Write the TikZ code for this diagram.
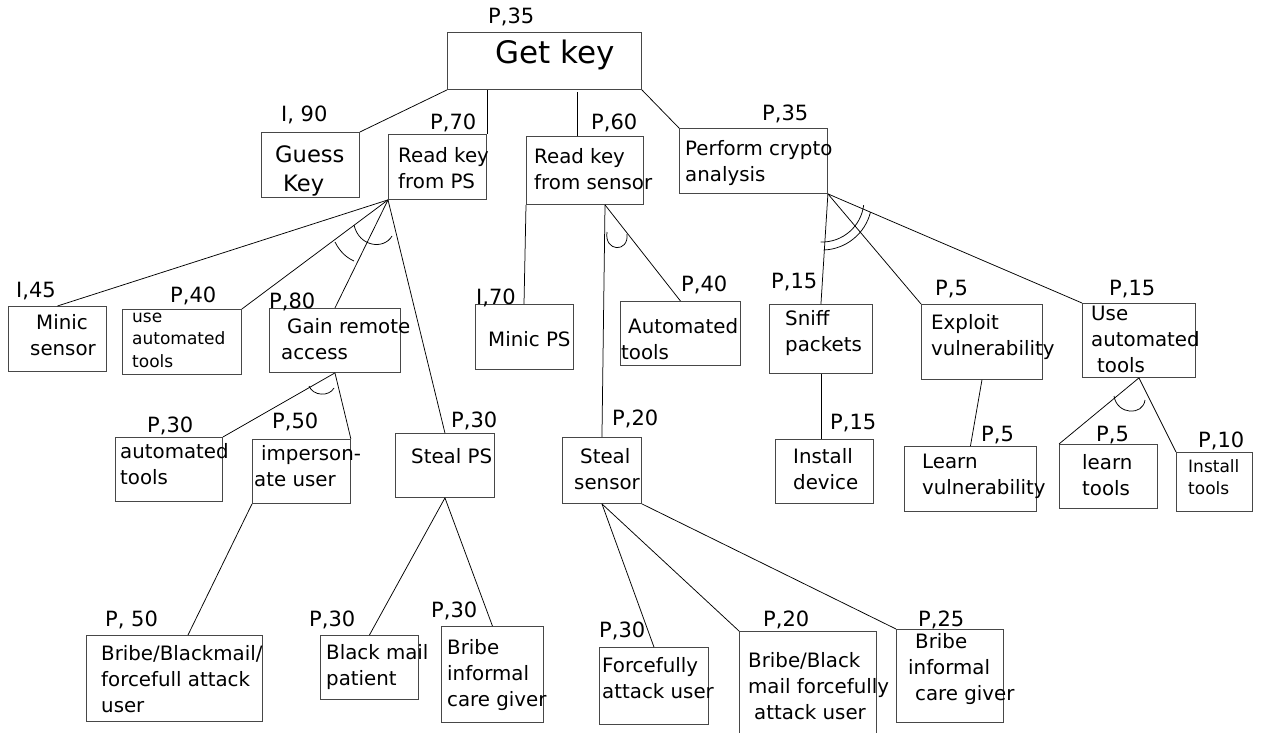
\documentclass[tikz,border=0pt]{standalone}
\usepackage{fontspec}
\setmainfont{DejaVu Sans}
\usetikzlibrary{calc}
\newcommand\rows[1]{\begin{tabular}[t]{@{}l@{}}#1\end{tabular}}
\tikzset{
  box/.style={draw=black!72, line width=0.9pt, inner sep=0pt, anchor=north west},
  lbl/.style={anchor=base west, inner sep=0pt, font=\fontsize{21}{25}\selectfont},
  txt/.style={anchor=base west, inner sep=0pt, font=\fontsize{19.8}{26.3}\selectfont},
  txtsm/.style={anchor=base west, inner sep=0pt, font=\fontsize{17}{22.7}\selectfont},
  txtbig/.style={anchor=base west, inner sep=0pt, font=\fontsize{31}{36}\selectfont},
  link/.style={draw=black, line width=0.75pt},
  andarc/.style={draw=black, line width=0.75pt}
}
\begin{document}
\begin{tikzpicture}[x=1pt,y=-1pt]
\fill[white] (0,0) rectangle (1263,733);
\useasboundingbox (0,0) rectangle (1263,733);

% ---- boxes ----
\node[box, minimum width=194pt, minimum height=57pt] (root) at (447,32) {};
\node[box, minimum width=98pt, minimum height=65pt] (guess) at (261,132) {};
\node[box, minimum width=98pt, minimum height=65pt] (ps) at (388,134) {};
\node[box, minimum width=117pt, minimum height=68pt] (sensor) at (526,136) {};
\node[box, minimum width=148pt, minimum height=65pt] (crypto) at (679,128) {};

\node[box, minimum width=98pt, minimum height=65pt] (minics) at (8,306) {};
\node[box, minimum width=119pt, minimum height=65pt] (useauto) at (122,309) {};
\node[box, minimum width=131pt, minimum height=64pt] (gain) at (269,308) {};
\node[box, minimum width=107pt, minimum height=64pt] (autotools) at (115,437) {};
\node[box, minimum width=98pt, minimum height=64pt] (imperson) at (252,439) {};
\node[box, minimum width=99pt, minimum height=64pt] (stealps) at (395,433) {};
\node[box, minimum width=176pt, minimum height=86pt] (bribeA) at (86,635) {};
\node[box, minimum width=98pt, minimum height=64pt] (blackmail) at (320,635) {};
\node[box, minimum width=102pt, minimum height=96pt] (careA) at (441,626) {};

\node[box, minimum width=98pt, minimum height=65pt] (minicps) at (475,304) {};
\node[box, minimum width=120pt, minimum height=64pt] (autosens) at (620,301) {};
\node[box, minimum width=79pt, minimum height=66pt] (stealsens) at (562,437) {};
\node[box, minimum width=109pt, minimum height=77pt] (forcef) at (599,647) {};
\node[box, minimum width=137pt, minimum height=120pt] (bribeB) at (739,631) {};
\node[box, minimum width=107pt, minimum height=93pt] (careB) at (896,629) {};

\node[box, minimum width=103pt, minimum height=69pt] (sniff) at (769,304) {};
\node[box, minimum width=121pt, minimum height=75pt] (exploit) at (921,304) {};
\node[box, minimum width=113pt, minimum height=74pt] (useautoB) at (1082,303) {};
\node[box, minimum width=98pt, minimum height=64pt] (install) at (775,439) {};
\node[box, minimum width=132pt, minimum height=65pt] (learnvul) at (904,446) {};
\node[box, minimum width=98pt, minimum height=64pt] (learntools) at (1059,444) {};
\node[box, minimum width=76pt, minimum height=59pt] (installtools) at (1176,452) {};

% ---- box texts ----
\node[txtbig] (t-root) at (495,64) {Get key};
\node[txt, font=\fontsize{22.6}{29}\selectfont] (t-guess) at (275,162) {\rows{Guess\\\hspace*{8pt}Key}};
\node[txt] (t-ps) at (398,162) {\rows{Read key\\from PS}};
\node[txt] (t-sensor) at (534,163) {\rows{Read key\\from sensor}};
\node[txt] (t-crypto) at (685,155) {\rows{Perform crypto\\analysis}};

\node[txt] (t-minics) at (30,329) {\rows{\hspace*{6pt}Minic\\sensor}};
\node[txtsm] (t-useauto) at (132,322) {\rows{use\\automated\\tools}};
\node[txt] (t-gain) at (281,333) {\rows{\hspace*{6pt}Gain remote\\access}};
\node[txt] (t-autotools) at (120,458) {\rows{automated\\tools}};
\node[txt] (t-imperson) at (254,460) {\rows{\hspace*{7pt}imperson-\\ate user}};
\node[txt] (t-stealps) at (411,463) {Steal PS};
\node[txt] (t-bribeA) at (101,660) {\rows{Bribe/Blackmail/\\forcefull attack\\user}};
\node[txt] (t-blackmail) at (326,659) {\rows{Black mail\\patient}};
\node[txt] (t-careA) at (447,654) {\rows{Bribe\\informal\\care giver}};

\node[txt] (t-minicps) at (488,346) {Minic PS};
\node[txt] (t-autosens) at (621,333) {\rows{\hspace*{7pt}Automated\\tools}};
\node[txt] (t-stealsens) at (574,463) {\rows{\hspace*{6pt}Steal\\sensor}};
\node[txt] (t-forcef) at (602,672) {\rows{Forcefully\\attack user}};
\node[txt] (t-bribeB) at (748,667) {\rows{Bribe/Black\\mail forcefully\\\hspace*{6pt}attack user}};
\node[txt] (t-careB) at (908,648) {\rows{\hspace*{7pt}Bribe\\informal\\\hspace*{7pt}care giver}};

\node[txt] (t-sniff) at (785,325) {\rows{Sniff\\packets}};
\node[txt] (t-exploit) at (931,329) {\rows{Exploit\\vulnerability}};
\node[txt] (t-useautoB) at (1091,320) {\rows{Use\\automated\\\hspace*{6pt}tools}};
\node[txt] (t-install) at (793,463) {\rows{Install\\device}};
\node[txt] (t-learnvul) at (922,468) {\rows{Learn\\vulnerability}};
\node[txt] (t-learntools) at (1082,469) {\rows{learn\\tools}};
\node[txtsm] (t-installtools) at (1188,472) {\rows{Install\\tools}};

% ---- probability labels ----
\node[lbl] (l-root) at (488,24) {P,35};
\node[lbl] (l-guess) at (281,122) {I, 90};
\node[lbl] (l-ps) at (430,129) {P,70};
\node[lbl] (l-sensor) at (591,129) {P,60};
\node[lbl] (l-crypto) at (762,121) {P,35};
\node[lbl] (l-minics) at (16,297) {I,45};
\node[lbl] (l-useauto) at (170,302) {P,40};
\node[lbl] (l-gain) at (269,308) {P,80};
\node[lbl] (l-autotools) at (147,432) {P,30};
\node[lbl] (l-imperson) at (272,428) {P,50};
\node[lbl] (l-stealps) at (451,427) {P,30};
\node[lbl] (l-bribeA) at (105,626) {P, 50};
\node[lbl] (l-blackmail) at (309,626) {P,30};
\node[lbl] (l-careA) at (431,617) {P,30};
\node[lbl] (l-minicps) at (476,304) {I,70};
\node[lbl] (l-autosens) at (681,291) {P,40};
\node[lbl] (l-stealsens) at (612,425) {P,20};
\node[lbl] (l-forcef) at (599,637) {P,30};
\node[lbl] (l-bribeB) at (763,626) {P,20};
\node[lbl] (l-careB) at (918,626) {P,25};
\node[lbl] (l-sniff) at (771,288) {P,15};
\node[lbl] (l-exploit) at (935,295) {P,5};
\node[lbl] (l-useautoB) at (1109,295) {P,15};
\node[lbl] (l-install) at (830,429) {P,15};
\node[lbl] (l-learnvul) at (981,441) {P,5};
\node[lbl] (l-learntools) at (1096,441) {P,5};
\node[lbl] (l-installtools) at (1198,447) {P,10};

% ---- connectors ----
\coordinate (sk) at ([xshift=51pt]sensor.north west);
\coordinate (sb) at ([xshift=79pt]sensor.south west);
\coordinate (bA) at ([xshift=102pt]bribeA.north west);
\coordinate (mp) at ([xshift=49pt]minicps.north west);

\path[link] (guess.north east) -- (root.south west);
\path[link] (ps.north east) -- (ps.north east |- root.south);
\path[link] (sk) -- ([yshift=-2pt]sk |- root.south);
\path[link] (crypto.north west) -- (root.south east);

\path[link] (ps.south west) -- (minics.north);
\path[link] (ps.south west) -- (useauto.north east);
\path[link] (ps.south west) -- (gain.north);
\path[link] (ps.south west) -- (stealps.north);

\path[link] (gain.south) -- (autotools.north east);
\path[link] (gain.south) -- (imperson.north east);
\path[link] (imperson.south west) -- (bA);
\path[link] (stealps.south) -- (blackmail.north);
\path[link] (stealps.south) -- (careA.north);

\path[link] (sensor.south west) -- (mp);
\path[link] (sb) -- (autosens.north);
\path[link] (sb) -- (stealsens.north);
\path[link] (stealsens.south) -- (forcef.north);
\path[link] (stealsens.south) -- (bribeB.north west);
\path[link] (stealsens.south east) -- (careB.north west);

\path[link] (crypto.south east) -- (sniff.north);
\path[link] (crypto.south east) -- (exploit.north west);
\path[link] (crypto.south east) -- (useautoB.north west);
\path[link] (sniff.south) -- (sniff.south |- install.north);
\path[link] (exploit.south) -- (learnvul.north);
\path[link] (useautoB.south) -- (learntools.north west);
\path[link] (useautoB.south) -- (installtools.north west);

% ---- AND arcs ----
\path[andarc] (354,225) .. controls (359,247) and (384,250) .. (392,236);
\path[andarc] (335,242) .. controls (340,252) and (347,258) .. (354,261);
\path[andarc] (607,232) .. controls (604,252) and (629,253) .. (627,234);
\path[andarc] (309,386) .. controls (313,396) and (329,397) .. (334,388);
\path[andarc] (1114,396) .. controls (1117,415) and (1143,416) .. (1145,400);
\path[andarc] (820.5,242) arc[start angle=268, end angle=353, radius=42pt];
\path[andarc] (823.7,250) arc[start angle=272, end angle=346, radius=50pt];
\end{tikzpicture}
\end{document}
